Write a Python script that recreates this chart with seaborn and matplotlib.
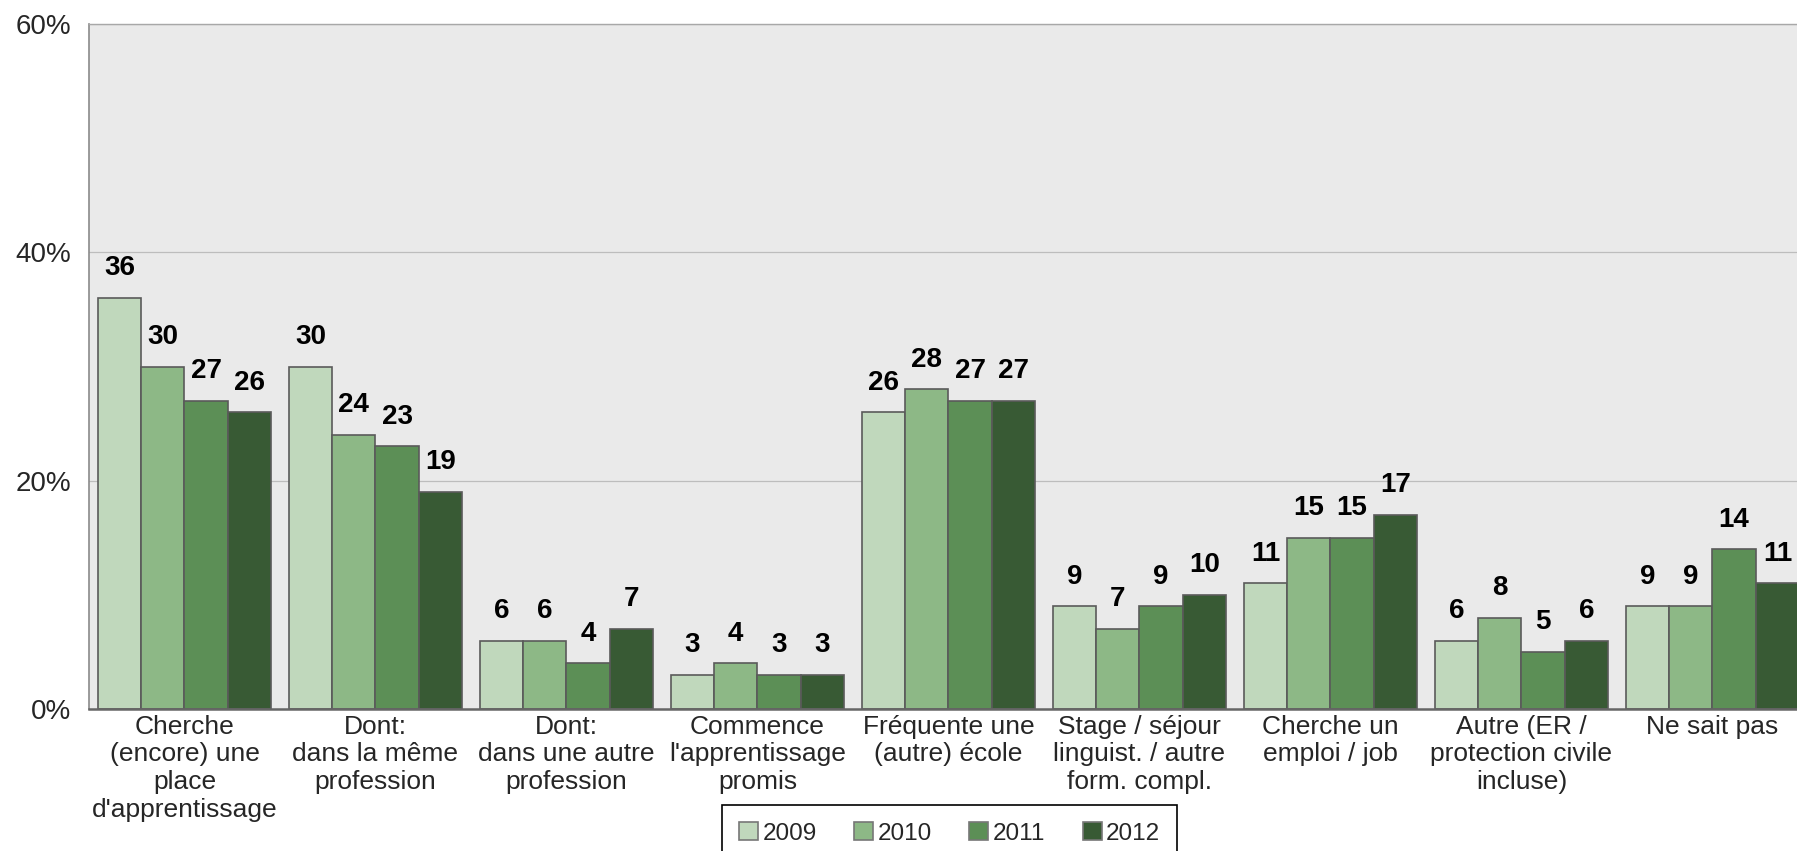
import pandas as pd
import matplotlib
matplotlib.use("Agg")
import matplotlib.pyplot as plt
from matplotlib.patches import Patch
import seaborn as sns

# Data (percent)
categories = [
    "Cherche\n(encore) une\nplace\nd'apprentissage",
    "Dont:\ndans la même\nprofession",
    "Dont:\ndans une autre\nprofession",
    "Commence\nl'apprentissage\npromis",
    "Fréquente une\n(autre) école",
    "Stage / séjour\nlinguist. / autre\nform. compl.",
    "Cherche un\nemploi / job",
    "Autre (ER /\nprotection civile\nincluse)",
    "Ne sait pas",
]
years = ["2009", "2010", "2011", "2012"]
values_2009 = [36, 30, 6, 3, 26, 9, 11, 6, 9]
values_2010 = [30, 24, 6, 4, 28, 7, 15, 8, 9]
values_2011 = [27, 23, 4, 3, 27, 9, 15, 5, 14]
values_2012 = [26, 19, 7, 3, 27, 10, 17, 6, 11]
y_ticks = [0, 20, 40, 60]
colors = ["#c0d8bc", "#8db886", "#5c8f56", "#385a34"]

sns.set_theme(style="white")
plt.rcParams["font.family"] = ["Liberation Sans", "DejaVu Sans"]

df = pd.DataFrame({
    "categorie": categories * 4,
    "annee": [y for y in years for _ in categories],
    "valeur": values_2009 + values_2010 + values_2011 + values_2012,
})

fig = plt.figure(figsize=(17.97, 8.51), dpi=100)
ax = fig.add_axes([0.0495, 0.1668, 0.9566, 0.805])
ax.set_facecolor("#eaeaea")

sns.barplot(data=df, x="categorie", y="valeur", hue="annee",
            palette=colors, width=0.907, gap=0, ax=ax,
            edgecolor="#5a5a5a", linewidth=1.2, saturation=1, legend=False)

for container in ax.containers:
    ax.bar_label(container, fmt="%d", padding=12, fontsize=20,
                 fontweight="bold", color="black")

ax.set_ylim(0, 60)
ax.set_xlim(-0.5, len(categories) - 0.5)
ax.set_yticks(y_ticks)
ax.set_yticklabels([f"{t}%" for t in y_ticks])
ax.set_xlabel("")
ax.set_ylabel("")
ax.tick_params(axis="y", length=0, pad=13, labelsize=20)
ax.tick_params(axis="x", length=0, pad=4, labelsize=19)
for lbl in ax.get_xticklabels():
    lbl.set_linespacing(1.2)

ax.set_axisbelow(True)
ax.yaxis.grid(True, color="#bdbdbd", linewidth=0.9)
ax.spines["top"].set_color("#a8a8a8")
ax.spines["top"].set_linewidth(1.0)
ax.spines["left"].set_color("#8a8a8a")
ax.spines["left"].set_linewidth(1.2)
ax.spines["bottom"].set_color("#666666")
ax.spines["bottom"].set_linewidth(1.8)
ax.spines["right"].set_visible(False)

handles = [Patch(facecolor=c, edgecolor="#777777", linewidth=1.2) for c in colors]
leg = fig.legend(handles, years, loc="upper center",
                 bbox_to_anchor=(949.5 / 1797, 1 - 805 / 851), ncol=4,
                 fontsize=17.5, frameon=True, fancybox=False, edgecolor="black",
                 handlelength=0.78, handleheight=0.78, handletextpad=0.16,
                 columnspacing=1.56, borderpad=0.7, borderaxespad=0,
                 framealpha=1)
leg.get_frame().set_linewidth(1.2)

fig.savefig("out.png", dpi=100)
